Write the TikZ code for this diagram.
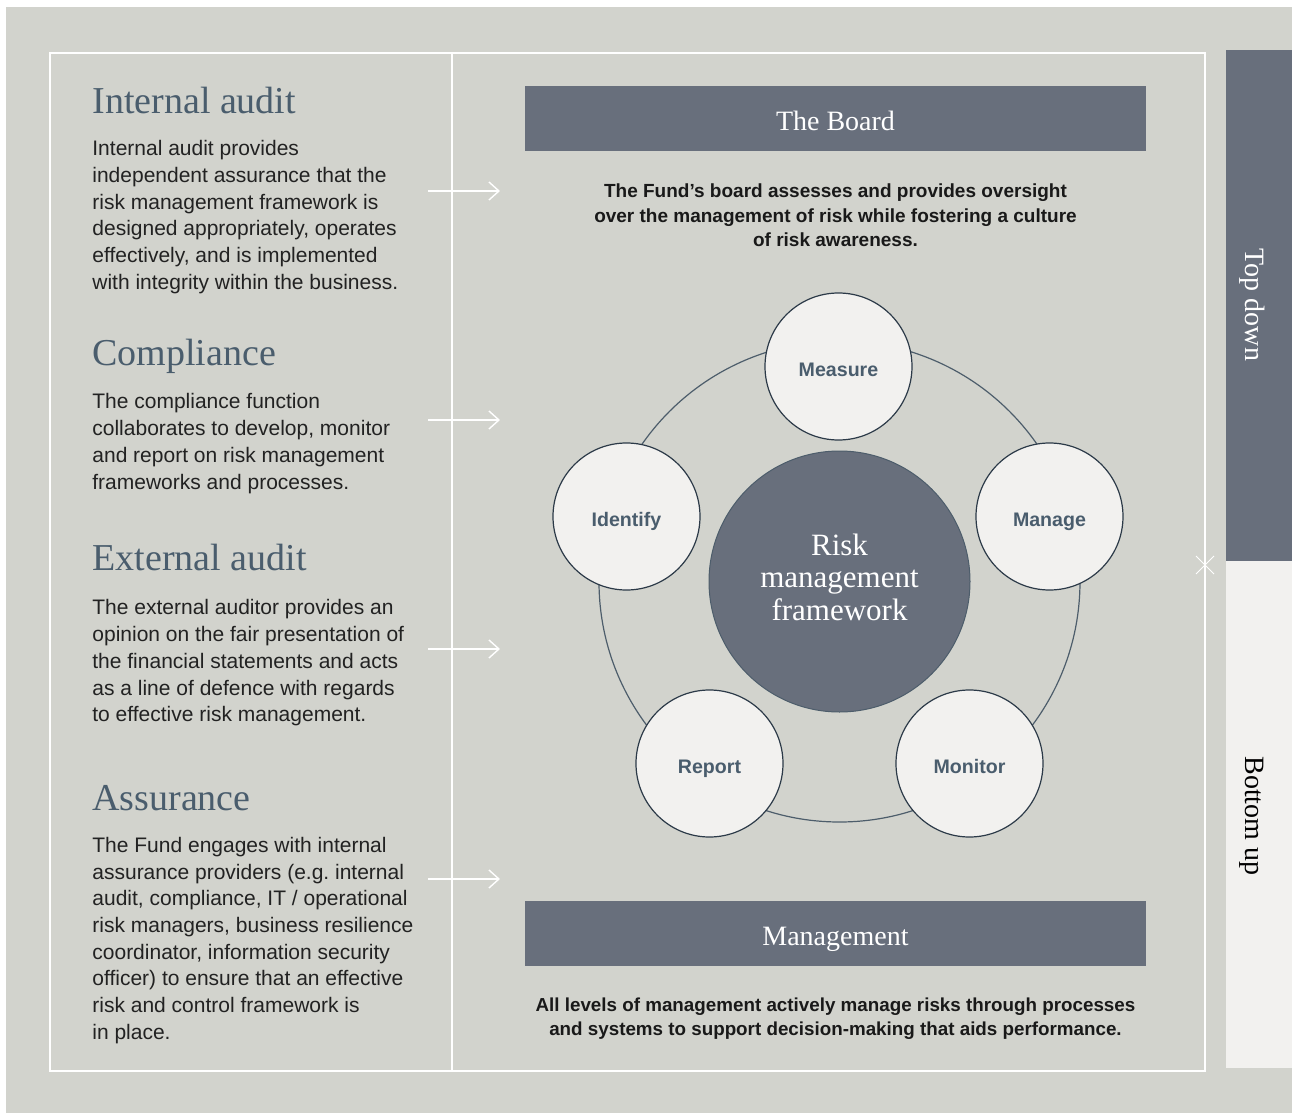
\documentclass[tikz,border=0pt]{standalone}
\usepackage{fontspec}
\setmainfont{Liberation Serif}
\setsansfont{Liberation Sans}
\usetikzlibrary{positioning, arrows.meta}
\frenchspacing
\definecolor{paperBg}{HTML}{D2D3CD}
\definecolor{slateD}{HTML}{686F7C}
\definecolor{chalk}{HTML}{F2F1EF}
\definecolor{inkH}{HTML}{4A5D6D}
\definecolor{inkT}{HTML}{222222}
\definecolor{ringC}{HTML}{4D5D6B}
\definecolor{rimC}{HTML}{2C3A48}
\tikzstyle{heading} = [anchor=base west, inner sep=0pt, font=\fontsize{19}{22}\selectfont, text=inkH]
\tikzstyle{body}    = [anchor=north west, inner sep=0pt, align=left, font=\sffamily\fontsize{10.5}{13.35}\selectfont, text=inkT]
\tikzstyle{lead}    = [anchor=north, inner sep=0pt, align=center, font=\sffamily\bfseries\fontsize{9.5}{12.1}\selectfont, text=black!90]
\tikzstyle{banner}  = [fill=slateD, minimum width=310.5pt, minimum height=32.5pt, inner sep=0pt, text=white, font=\fontsize{14}{16}\selectfont, text height=12pt, text depth=0pt]
\tikzstyle{stage}   = [circle, draw=rimC, line width=0.6pt, fill=chalk, minimum size=73.5pt, inner sep=0pt, font=\sffamily\bfseries\fontsize{9.8}{11}\selectfont, text=inkH, text height=10pt, text depth=0pt]
\tikzstyle{flow}    = [-{Straight Barb[length=5pt,width=9pt]}, white, line width=0.7pt]

\begin{document}
\begin{tikzpicture}[x=0.5pt, y=-0.5pt]
% canvas: 1 unit = 1 px of the 1292 x 1113 layout, y grows downwards
\useasboundingbox (0,0) rectangle (1292,1113);
\fill[white] (0,0) rectangle (1292,1113);
\fill[paperBg] (6,7) rectangle (1292,1113);
% frame and column divider
\draw[white, line width=0.7pt] (50,53) rectangle (1205,1071);
\draw[white, line width=0.7pt] (452,53) -- (452,1071);
\draw[white, line width=0.5pt] (1196,556) -- (1214,574) (1196,574) -- (1214,556);
% side bar
\fill[slateD] (1226,50) rectangle (1292,561);
\fill[chalk] (1226,561) rectangle (1292,1068);
\node[rotate=-90, text=white, font=\fontsize{14}{16}\selectfont] (topdown) at (1252,305) {Top down};
\node[rotate=-90, text=black, font=\fontsize{14}{16}\selectfont] (bottomup) at (1252,816) {Bottom up};
% left column
\node[heading] (hIA) at (92,113.3) {Internal audit};
\node[body] (tIA) at (92,140) {Internal audit provides\\independent assurance that the\\risk management framework is\\designed appropriately, operates\\effectively, and is implemented\\with integrity within the business.};
\node[heading] (hCO) at (92,365.7) {Compliance};
\node[body] (tCO) at (92,393.3) {The compliance function\\collaborates to develop, monitor\\and report on risk management\\frameworks and processes.};
\node[heading] (hEA) at (92,570.7) {External audit};
\node[body] (tEA) at (92,599.3) {The external auditor provides an\\opinion on the fair presentation of\\the financial statements and acts\\as a line of defence with regards\\to effective risk management.};
\node[heading] (hAS) at (92,810) {Assurance};
\node[body] (tAS) at (92,836.7) {The Fund engages with internal\\assurance providers (e.g. internal\\audit, compliance, IT / operational\\risk managers, business resilience\\coordinator, information security\\officer) to ensure that an effective\\risk and control framework is\\in place.};
% arrows into the right column
\foreach \i/\ya in {1/191,2/420,3/649,4/879}{
  \coordinate (src\i) at (428,\ya);
  \coordinate (dst\i) at (500,\ya);
  \draw[flow] (src\i) -- (dst\i);
}
% board and management
\node[banner] (board) at (835.5,118.5) {The Board};
\node[lead] (boardtxt) at (835.5,183.7) {The Fund’s board assesses and provides oversight\\over the management of risk while fostering a culture\\of risk awareness.};
\node[banner] (mgmt) at (835.5,933) {Management};
\node[lead, font=\sffamily\bfseries\fontsize{9.4}{12.1}\selectfont] (mgmttxt) at (835.5,997.1) {All levels of management actively manage risks through processes\\and systems to support decision-making that aids performance.};
% cycle
\coordinate (hub) at (839.5,581.5);
\draw[ringC, line width=0.6pt] (hub) circle[radius=240.5];
\node[circle, draw=ringC, line width=0.5pt, fill=slateD, minimum size=130.5pt, inner sep=0pt] (core) at (hub) {};
\node[align=center, text=white, font=\fontsize{15.5}{16.25}\selectfont] (coretxt) at ([yshift=2.25pt]core.center) {Risk\\management\\framework};
\node[stage] (measure) at (838.5,366.5) {Measure};
\node[stage] (manage) at (1049.5,516.5) {Manage};
\node[stage] (monitor) at (969.5,763.5) {Monitor};
\node[stage] (report) at (709.5,763.5) {Report};
\node[stage] (identify) at (626.5,516.5) {Identify};
\end{tikzpicture}
\end{document}
